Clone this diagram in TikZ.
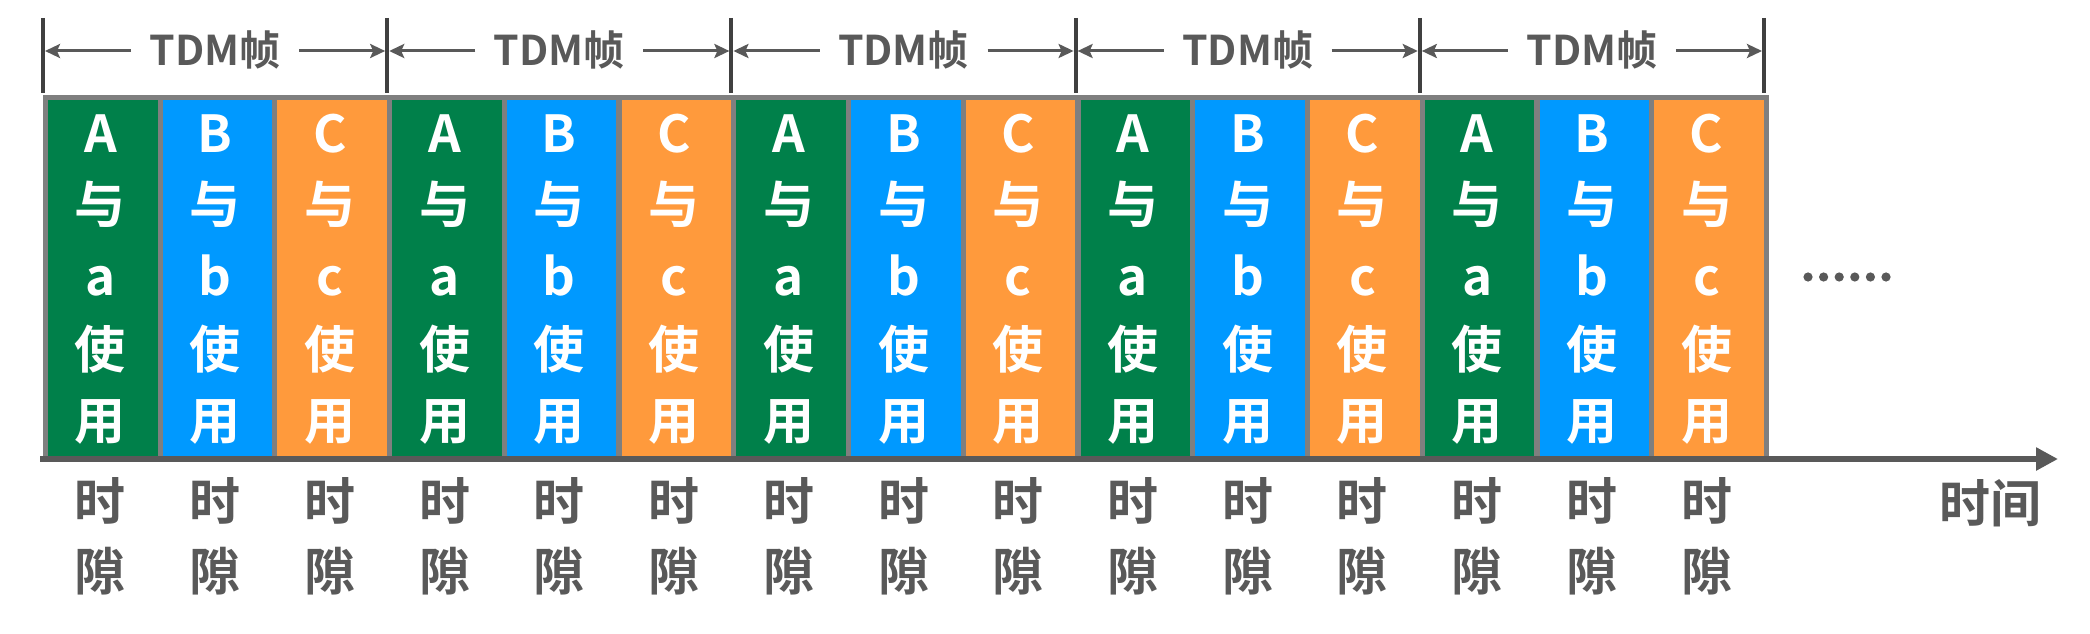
\documentclass[tikz,border=0pt]{standalone}
\usepackage{fontspec}
\setmainfont{Noto Sans CJK SC Bold}
\usetikzlibrary{arrows.meta}
\definecolor{cgreen}{HTML}{00804A}
\definecolor{cblue}{HTML}{0099FF}
\definecolor{corange}{HTML}{FF9A3C}
\definecolor{bordergray}{HTML}{7F7F7F}
\definecolor{txtgray}{HTML}{595959}
\definecolor{tickgray}{HTML}{404040}
\begin{document}
\begin{tikzpicture}[x=1pt,y=-1pt,
  slotbox/.style={draw=bordergray,line width=5pt,minimum width=114.5pt,minimum height=362pt,anchor=north west,inner sep=0pt},
  slottxt/.style={text=white,font=\fontsize{51}{60}\selectfont,anchor=base,inner sep=0pt},
  labtxt/.style={text=txtgray,font=\fontsize{51}{60}\selectfont,anchor=base,inner sep=0pt},
  frametxt/.style={text=txtgray,font=\fontsize{41}{48}\selectfont,anchor=base,inner sep=0pt},
  ticks/.style={draw=tickgray,line width=4pt},
  dimarrow/.style={draw=txtgray,line width=3pt,-{Stealth[length=15pt,width=14pt,inset=3pt]}},
  axisline/.style={draw=txtgray,line width=6pt,-{Triangle[length=22pt,width=22pt]}}]
\useasboundingbox (0,0) rectangle (2090,634);
\foreach \f in {0,...,4} {
  \foreach \s/\col/\U/\L in {0/cgreen/A/a,1/cblue/B/b,2/corange/C/c} {
    \pgfmathsetmacro\xl{43+344.2*\f+114.73*\s}
    \pgfmathsetmacro\xc{\xl+57.37}
    \node[slotbox,fill=\col] (slot-\f-\s) at (\xl,95) {};
    \node[slottxt] (t1-\f-\s) at (\xc,152) {\U};
    \node[slottxt] (t2-\f-\s) at (\xc,223) {与};
    \node[slottxt] (t3-\f-\s) at (\xc,295) {\L};
    \node[slottxt] (t4-\f-\s) at (\xc,368) {使};
    \node[slottxt] (t5-\f-\s) at (\xc,439) {用};
    \node[labtxt] (b1-\f-\s) at (\xc,520) {时};
    \node[labtxt] (b2-\f-\s) at (\xc,590) {隙};
  }
}
% top frame dimension marks
\foreach \k in {0,...,5} {
  \pgfmathsetmacro\xt{43+344.2*\k}
  \coordinate (tt-\k) at (\xt,18);
  \coordinate (tb-\k) at (\xt,93);
  \draw[ticks] (tt-\k) -- (tb-\k);
}
\foreach \k in {0,...,4} {
  \pgfmathsetmacro\xa{43+344.2*\k+2}
  \pgfmathsetmacro\xb{43+344.2*(\k+1)-2}
  \pgfmathsetmacro\xm{43+344.2*\k+172.1}
  \node[frametxt] (fl-\k) at (\xm,66) {TDM帧};
  \coordinate (al-\k) at (\xa,51);
  \coordinate (ar-\k) at (\xb,51);
  \coordinate (ll-\k) at (\xm-84,51);
  \coordinate (lr-\k) at (\xm+84,51);
  \draw[dimarrow] (ll-\k) -- (al-\k);
  \draw[dimarrow] (lr-\k) -- (ar-\k);
}
% time axis
\coordinate (origin) at (40,459);
\coordinate (tend) at (2058,459);
\draw[axisline] (origin) -- (tend);
\node[labtxt] (timelab) at (1990,522) {时间};
% dots
\foreach \k in {0,...,5} {
  \fill[txtgray] (1808+15.6*\k,277) circle (4.6pt);
}
\end{tikzpicture}
\end{document}
